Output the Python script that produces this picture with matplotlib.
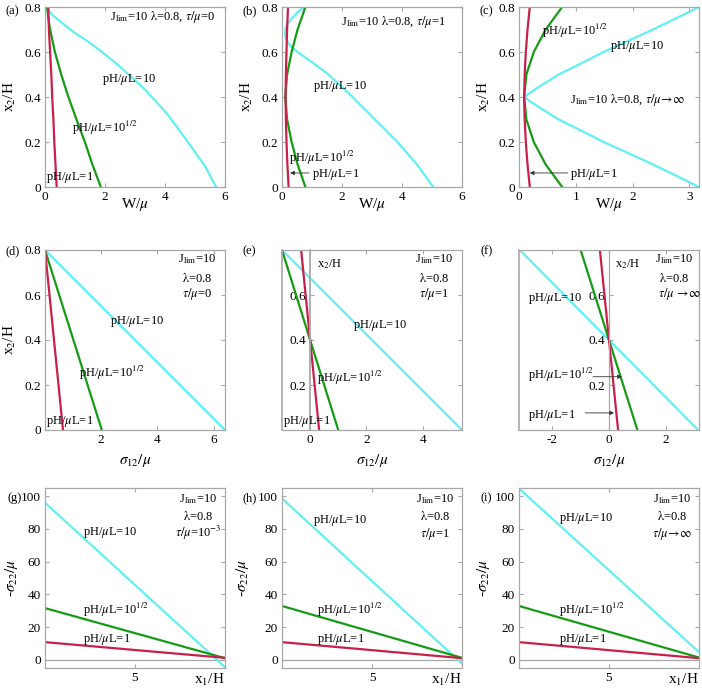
import matplotlib.pyplot as plt
import numpy as np
from matplotlib.ticker import FormatStrFormatter

plt.rcParams['font.family'] = 'Liberation Serif'
plt.rcParams['mathtext.fontset'] = 'stix'

RED = '#c8204b'
GREEN = '#169b16'
CYAN = '#62f0f0'
FRAME = '#a8a8a8'

lab1 = r'pH/$\mu$L=1'
lab2 = r'pH/$\mu$L=10$^{1/2}$'
lab10 = r'pH/$\mu$L=10'
lam = r'$\mathrm{\lambda}$=0.8'

# row 1: W/mu against x2/H
x2_a = [0, 0.1, 0.2, 0.3, 0.4, 0.5, 0.6, 0.7, 0.75, 0.8]
w_a_red = [0.39, 0.35, 0.31, 0.28, 0.24, 0.21, 0.17, 0.13, 0.12, 0.11]
w_a_green = [1.86, 1.58, 1.33, 1.05, 0.78, 0.54, 0.33, 0.17, 0.11, 0.07]
x2_a_cyan = [0, 0.089, 0.208, 0.327, 0.431, 0.535, 0.6, 0.65, 0.684, 0.71, 0.743, 0.77, 0.8]
w_a_cyan = [5.7, 5.35, 4.72, 4.06, 3.35, 2.5, 1.9, 1.4, 1.0, 0.75, 0.44, 0.2, 0.06]

x2_b = [0, 0.1, 0.2, 0.3, 0.4, 0.5, 0.6, 0.7, 0.8]
w_b_red = [0.22, 0.18, 0.15, 0.13, 0.12, 0.13, 0.15, 0.17, 0.2]
w_b_green = [0.78, 0.52, 0.32, 0.17, 0.11, 0.17, 0.32, 0.52, 0.78]
x2_b_cyan = [0, 0.1, 0.2, 0.3, 0.4, 0.45, 0.5, 0.55, 0.6, 0.62, 0.64, 0.66, 0.68, 0.7, 0.72, 0.75, 0.78, 0.8]
w_b_cyan = [5.04, 4.5, 3.85, 3.1, 2.35, 1.95, 1.55, 1.05, 0.52, 0.34, 0.21, 0.13, 0.1, 0.11, 0.16, 0.33, 0.55, 0.74]

x2_c = [0, 0.1, 0.2, 0.3, 0.4, 0.5, 0.6, 0.7, 0.8]
w_c_red = [0.19, 0.15, 0.12, 0.1, 0.09, 0.1, 0.12, 0.15, 0.19]
w_c_green = [0.76, 0.47, 0.26, 0.13, 0.09, 0.13, 0.26, 0.47, 0.76]
x2_c_cyan = [0, 0.05, 0.1, 0.15, 0.2, 0.25, 0.3, 0.35, 0.38, 0.4,
             0.42, 0.45, 0.5, 0.55, 0.6, 0.65, 0.7, 0.75, 0.8]
w_c_cyan = [3.17, 2.77, 2.36, 1.93, 1.49, 1.1, 0.7, 0.38, 0.2, 0.09,
            0.2, 0.38, 0.7, 1.1, 1.49, 1.93, 2.36, 2.77, 3.17]

# row 2: sigma12/mu at x2/H = 0 and 0.8
x2_ends = [0, 0.8]
s_d_red = [0.64, 0.0]
s_d_green = [2.02, 0.0]
s_d_cyan = [6.4, 0.0]
s_e_red = [0.32, -0.32]
s_e_green = [1.0, -1.0]
s_e_cyan = [5.4, -1.0]
s_f_red = [0.32, -0.32]
s_f_green = [1.0, -1.0]
s_f_cyan = [3.14, -3.14]

# row 3: -sigma22/mu at x1/H = 0 and 10
x1_ends = [0, 10]
p_g_red = [10.8, 1.2]
p_g_green = [31.6, 1.0]
p_g_cyan = [96.0, -4.5]
p_h_red = [10.8, 1.0]
p_h_green = [32.9, 1.2]
p_h_cyan = [98.6, -2.4]
p_i_red = [10.8, 1.0]
p_i_green = [32.9, 1.4]
p_i_cyan = [104.7, 4.7]

fig = plt.figure(figsize=(7.02, 6.91), dpi=100)
lefts = [45 / 702, 282 / 702, 519 / 702]
bottoms = [1 - 187 / 691, 1 - 430 / 691, 1 - 668 / 691]
w, h = 180 / 702, 180 / 691

axes = [[fig.add_axes([l, b, w, h]) for l in lefts] for b in bottoms]


def style(ax):
    for s in ax.spines.values():
        s.set_color(FRAME)
        s.set_linewidth(0.9)
    ax.tick_params(direction='in', top=True, right=True, color=FRAME,
                   length=3, labelsize=9.5, pad=3)
    ax.xaxis.set_major_formatter(FormatStrFormatter('%g'))
    ax.yaxis.set_major_formatter(FormatStrFormatter('%g'))


def txt(ax, x, y, s, ha='left'):
    ax.text(x, y, s, transform=ax.transAxes, ha=ha, va='baseline', fontsize=9)


def arrow(ax, x0, x1, y):
    ax.annotate('', xy=(x1, y), xytext=(x0, y), xycoords='axes fraction',
                arrowprops=dict(arrowstyle='-|>', color='#333333', lw=0.6,
                                mutation_scale=6, shrinkA=0, shrinkB=0))


lw = 1.6
panel = 'abcdefghi'

# ---- row 1
row1 = [(x2_a, w_a_red, w_a_green, x2_a_cyan, w_a_cyan, 6),
        (x2_b, w_b_red, w_b_green, x2_b_cyan, w_b_cyan, 6),
        (x2_c, w_c_red, w_c_green, x2_c_cyan, w_c_cyan, 3.17)]
for j, (yy, r, g, yc, c, xmax) in enumerate(row1):
    ax = axes[0][j]
    ax.plot(c, yc, color=CYAN, lw=lw)
    ax.plot(g, yy, color=GREEN, lw=lw)
    ax.plot(r, yy, color=RED, lw=lw)
    ax.set_xlim(0, xmax)
    ax.set_ylim(0, 0.8)
    ax.set_yticks([0, 0.2, 0.4, 0.6, 0.8])
    ax.set_xticks([0, 1, 2, 3] if j == 2 else [0, 2, 4, 6])
    style(ax)
    ax.set_ylabel(r'x$_2$/H', fontsize=11)
    ax.yaxis.set_label_coords(-0.15, 0.5)
    ax.set_xlabel(r'W/$\mu$', fontsize=11)
    ax.xaxis.set_label_coords(0.5, -0.05)
    txt(ax, -0.18, 0.96, '(%s)' % panel[j], ha='center')

ax = axes[0][0]
txt(ax, 0.36, 0.928, r'J$_{\rm lim}$=10 ' + lam + r', $\tau/\mu$=0')
txt(ax, 0.317, 0.583, lab10)
txt(ax, 0.15, 0.306, lab2)
txt(ax, 0.005, 0.039, lab1)

ax = axes[0][1]
txt(ax, 0.326, 0.9, r'J$_{\rm lim}$=10 ' + lam + r', $\tau/\mu$=1')
txt(ax, 0.174, 0.544, lab10)
txt(ax, 0.04, 0.139, lab2)
txt(ax, 0.165, 0.056, lab1)
arrow(ax, 0.15, 0.045, 0.078)

ax = axes[0][2]
txt(ax, 0.13, 0.846, lab2)
txt(ax, 0.505, 0.764, lab10)
txt(ax, 0.286, 0.467, r'J$_{\rm lim}$=10 ' + lam + r', $\tau/\mu\!\rightarrow\!\infty$')
txt(ax, 0.286, 0.056, lab1)
arrow(ax, 0.27, 0.06, 0.078)

# ---- row 2
row2 = [(s_d_red, s_d_green, s_d_cyan, (0, 6.4), [2, 4, 6]),
        (s_e_red, s_e_green, s_e_cyan, (-1, 5.4), [0, 2, 4]),
        (s_f_red, s_f_green, s_f_cyan, (-3.17, 3.17), [-2, 0, 2])]
taus = [r'$\tau/\mu$=0', r'$\tau/\mu$=1', r'$\tau/\mu\ \!\rightarrow\!\infty$']
for j, (r, g, c, xl, xt) in enumerate(row2):
    ax = axes[1][j]
    ax.plot(c, x2_ends, color=CYAN, lw=lw)
    ax.plot(g, x2_ends, color=GREEN, lw=lw)
    ax.plot(r, x2_ends, color=RED, lw=lw)
    ax.set_xlim(*xl)
    ax.set_ylim(0, 0.8)
    ax.set_xticks(xt)
    style(ax)
    ax.set_xlabel(r'$\sigma_{12}/\mu$', fontsize=11)
    ax.xaxis.set_label_coords(0.5, -0.12)
    if j == 0:
        ax.set_yticks([0, 0.2, 0.4, 0.6, 0.8])
        ax.set_ylabel(r'x$_2$/H', fontsize=11)
        ax.yaxis.set_label_coords(-0.15, 0.5)
    else:
        ax.set_yticks([0.2, 0.4, 0.6])
        ax.spines['left'].set_position(('data', 0))
        ax.spines['left'].set_linewidth(1.3 if j == 1 else 0.9)
        ax.axvline(xl[0], color=FRAME, lw=1.2, clip_on=False)
    txt(ax, -0.18, 0.975, '(%s)' % panel[3 + j], ha='center')
    xc = 0.845 if j < 2 else 0.86
    txt(ax, xc, 0.933, r'J$_{\rm lim}$=10', ha='center')
    txt(ax, xc, 0.821, lam, ha='center')
    txt(ax, xc + (0.03 if j == 2 else 0), 0.737, taus[j], ha='center')

ax = axes[1][0]
txt(ax, 0.36, 0.587, lab10)
txt(ax, 0.19, 0.296, lab2)
txt(ax, 0.005, 0.034, lab1)

ax = axes[1][1]
txt(ax, 0.194, 0.905, r'x$_2$/H', ha='left')
txt(ax, 0.394, 0.564, lab10)
txt(ax, 0.195, 0.268, lab2)
txt(ax, 0.005, 0.034, lab1)

ax = axes[1][2]
txt(ax, 0.533, 0.905, r'x$_2$/H', ha='left')
txt(ax, 0.05, 0.715, lab10)
txt(ax, 0.05, 0.285, lab2)
arrow(ax, 0.411, 0.572, 0.296)
txt(ax, 0.05, 0.067, lab1)
arrow(ax, 0.367, 0.528, 0.095)

# ---- row 3
row3 = [(p_g_red, p_g_green, p_g_cyan, r'$\tau/\mu$=10$^{-3}$'),
        (p_h_red, p_h_green, p_h_cyan, r'$\tau/\mu$=1'),
        (p_i_red, p_i_green, p_i_cyan, r'$\tau/\mu\!\rightarrow\!\infty$')]
lab_pos = [(0.21, 0.739, 0.21), (0.172, 0.806, 0.194), (0.22, 0.817, 0.22)]
ylab_x = [-0.14, -0.17, -0.15]
for j, (r, g, c, tau) in enumerate(row3):
    ax = axes[2][j]
    ax.axhline(0, color=FRAME, lw=0.9)
    ax.plot(x1_ends, c, color=CYAN, lw=lw)
    ax.plot(x1_ends, g, color=GREEN, lw=lw)
    ax.plot(x1_ends, r, color=RED, lw=lw)
    ax.set_xlim(0, 10)
    ax.set_ylim(-5, 105)
    ax.set_xticks([5])
    ax.set_yticks([0, 20, 40, 60, 80, 100])
    style(ax)
    ax.set_ylabel(r'-$\sigma_{22}/\mu$', fontsize=11)
    ax.yaxis.set_label_coords(ylab_x[j], 0.5)
    ax.set_xlabel(r'x$_1$/H', fontsize=11, ha='right')
    ax.xaxis.set_label_coords(1.0, -0.02)
    txt(ax, -0.18 if j else -0.167, 0.925, '(%s)' % panel[6 + j], ha='center')
    txt(ax, 0.85, 0.922, r'J$_{\rm lim}$=10', ha='center')
    txt(ax, 0.85, 0.822, lam, ha='center')
    txt(ax, 0.85, 0.728, tau, ha='center')
    txt(ax, lab_pos[j][0], lab_pos[j][1], lab10)
    txt(ax, lab_pos[j][2], 0.3, lab2)
    txt(ax, lab_pos[j][2], 0.144, lab1)

fig.savefig('out.png', dpi=100)
